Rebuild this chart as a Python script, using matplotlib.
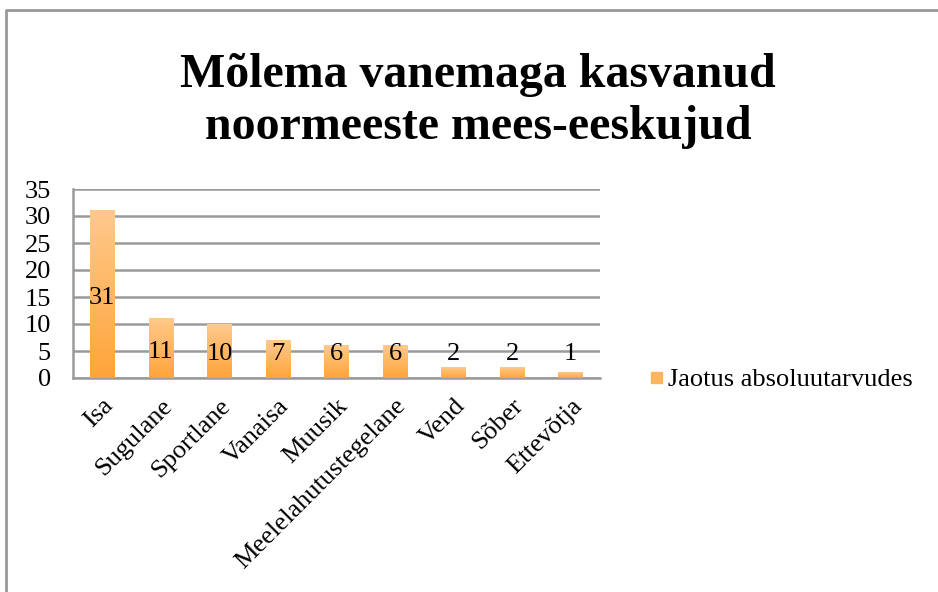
#!/usr/bin/env python3
'''Bar chart: Mõlema vanemaga kasvanud noormeeste mees-eeskujud.'''

import numpy as np
import matplotlib.pyplot as plt
from matplotlib.colors import LinearSegmentedColormap
from matplotlib.patches import Rectangle

CATEGORIES = ['Isa', 'Sugulane', 'Sportlane', 'Vanaisa', 'Muusik',
              'Meelelahutustegelane', 'Vend', 'Sõber', 'Ettevõtja']
VALUES = [31, 11, 10, 7, 6, 6, 2, 2, 1]
SERIES = 'Jaotus absoluutarvudes'
TITLE = 'Mõlema vanemaga kasvanud\nnoormeeste mees-eeskujud'
Y_TICKS = [0, 5, 10, 15, 20, 25, 30, 35]

FONT = 'Liberation Serif'
FS = 19
GRID = '#9a9a9a'
TOP_COLOR = '#ffc98c'
BOTTOM_COLOR = '#ffa43a'
BAR_W = 0.42

plt.rcParams['font.family'] = FONT

fig = plt.figure(figsize=(9.38, 5.92), dpi=100)
ax = fig.add_axes([73 / 938, 1 - 378 / 592, 527 / 938, 189 / 592])

cmap = LinearSegmentedColormap.from_list('bar', [BOTTOM_COLOR, TOP_COLOR])
grad = np.linspace(0, 1, 256).reshape(-1, 1)

for i, v in enumerate(VALUES):
    ax.imshow(grad, cmap=cmap, origin='lower', aspect='auto',
              extent=(i - BAR_W / 2, i + BAR_W / 2, 0, v), zorder=3)
    ax.text(i, max(v / 2 - 0.6, 4.5), str(v), ha='center', va='center',
            fontsize=FS, color='black', zorder=4)

ax.set_xlim(-0.5, len(CATEGORIES) - 0.5)
ax.set_ylim(0, 35)
ax.set_yticks(Y_TICKS)
ax.set_yticklabels([str(t) for t in Y_TICKS], fontsize=FS)
ax.set_xticks(range(len(CATEGORIES)))
ax.set_xticklabels(CATEGORIES, rotation=45, ha='right', va='top',
                   rotation_mode='anchor', fontsize=FS)
ax.tick_params(axis='x', length=0, pad=12)
ax.tick_params(axis='y', length=0, pad=16)
ax.yaxis.grid(True, color=GRID, linewidth=1.8, zorder=1)
ax.set_axisbelow(True)
for side in ('top', 'right'):
    ax.spines[side].set_visible(False)
for side in ('left', 'bottom'):
    ax.spines[side].set_color(GRID)
    ax.spines[side].set_linewidth(1.8)

# legend
fig.patches.append(Rectangle((651 / 938, 1 - 383 / 592), 11 / 938, 11 / 592,
                             transform=fig.transFigure, color='#ffb45e'))
fig.text(668 / 938, 1 - 380 / 592, SERIES, fontsize=FS, va='center')

fig.text(478 / 938, 1 - 101 / 592, TITLE, ha='center', va='center',
         fontsize=34.5, fontweight='bold', linespacing=1.22)

# outer chart border (left and top only visible)
fig.add_artist(plt.Line2D([6 / 938, 6 / 938, 1.0], [0, 1 - 10 / 592, 1 - 10 / 592],
                          transform=fig.transFigure, color='#999999', linewidth=2))

fig.savefig('out.png', dpi=100)
